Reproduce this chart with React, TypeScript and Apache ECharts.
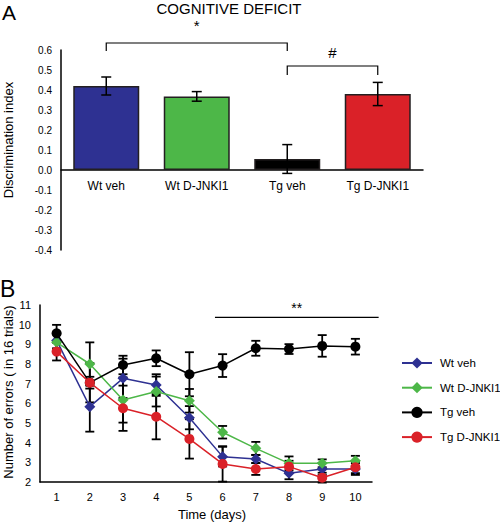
import React, { useEffect, useRef } from 'react';
import * as echarts from 'echarts';

// ---- Panel A data ----
const barCategories = ['Wt veh', 'Wt D-JNKI1', 'Tg veh', 'Tg D-JNKI1'];
const barValues = [0.42, 0.368, 0.055, 0.38];
const barErrors = [0.045, 0.024, 0.072, 0.058];
const barColors = ['#2e3192', '#4db748', '#000000', '#da2128'];

const bracketStart = [0, 2];
const bracketEnd = [2, 3];
const bracketTop = [0.635, 0.52];
const bracketLeg = [0.595, 0.475];
const bracketLabels = ['*', '#'];
const bracketLabelValue = [0.725, 0.59];

// ---- Panel B data ----
const days = ['1', '2', '3', '4', '5', '6', '7', '8', '9', '10'];
const wtVeh = [9.2, 5.83, 7.27, 6.93, 5.27, 3.29, 3.17, 2.44, 2.66, 2.66];
const wtVehErr = [0.4, 1.27, 1.0, 0.55, 0.59, 0.5, 0.2, 0.3, 0.3, 0.3];
const wtJnk = [9.1, 8.0, 6.17, 6.6, 6.13, 4.53, 3.71, 2.95, 2.95, 3.08];
const wtJnkErr = [0.4, 1.1, 1.15, 0.76, 0.6, 0.32, 0.33, 0.35, 0.2, 0.25];
const tgVeh = [9.56, 7.05, 7.95, 8.29, 7.48, 7.92, 8.8, 8.76, 8.92, 8.88];
const tgVehErr = [0.43, 0.3, 0.47, 0.4, 1.12, 0.58, 0.38, 0.25, 0.55, 0.4];
const tgJnk = [8.63, 7.05, 5.75, 5.32, 4.19, 2.92, 2.66, 2.78, 2.22, 2.75];
const tgJnkErr = [0.45, 1.0, 1.15, 1.15, 1.0, 0.9, 0.3, 0.3, 0.25, 0.3];

const lineNames = ['Wt veh', 'Wt D-JNKI1', 'Tg veh', 'Tg D-JNKI1'];
const lineColors = ['#2e3192', '#4db748', '#000000', '#da2128'];
const lineSymbols = ['diamond', 'diamond', 'circle', 'circle'];

const sigStartDay = 5.77;
const sigEndDay = 10.7;
const sigValue = 10.37;
const sigLabelValue = 10.85;
const sigLabel = '**';

const FONT = '"Liberation Sans", Arial, sans-serif';

export default function App() {
  const ref = useRef<HTMLDivElement>(null);

  useEffect(() => {
    if (!ref.current) return;
    const chart = echarts.init(ref.current, undefined, { renderer: 'svg' });

    const lineValues = [wtVeh, wtJnk, tgVeh, tgJnk];
    const lineErrs = [wtVehErr, wtJnkErr, tgVehErr, tgJnkErr];

    const errDataB: number[][] = [];
    lineValues.forEach((vals, s) => {
      vals.forEach((v, i) => {
        errDataB.push([i, v - lineErrs[s][i], v + lineErrs[s][i]]);
      });
    });

    const errRender = (w: number, lw: number) => (params: any, api: any) => {
      const x = api.value(0);
      const lo = api.coord([x, api.value(1)]);
      const hi = api.coord([x, api.value(2)]);
      const st = { stroke: '#000', lineWidth: lw };
      return {
        type: 'group',
        children: [
          { type: 'line', shape: { x1: lo[0], y1: lo[1], x2: hi[0], y2: hi[1] }, style: st },
          { type: 'line', shape: { x1: lo[0] - w, y1: lo[1], x2: lo[0] + w, y2: lo[1] }, style: st },
          { type: 'line', shape: { x1: hi[0] - w, y1: hi[1], x2: hi[0] + w, y2: hi[1] }, style: st },
        ],
      };
    };

    const option: any = {
      animation: false,
      textStyle: { fontFamily: FONT, color: '#000' },
      graphic: [
        { type: 'text', x: 2, y: 12, style: { text: 'A', font: `21px ${FONT}`, fill: '#000', textAlign: 'left', textVerticalAlign: 'middle' } },
        { type: 'text', x: 229, y: 8, style: { text: 'COGNITIVE DEFICIT', font: `15px ${FONT}`, fill: '#000', textAlign: 'center', textVerticalAlign: 'middle' } },
        { type: 'text', x: 8, y: 140, rotation: Math.PI / 2, style: { text: 'Discrimination index', font: `13px ${FONT}`, fill: '#000', textAlign: 'center', textVerticalAlign: 'middle' } },
        { type: 'text', x: 0, y: 289, style: { text: 'B', font: `23px ${FONT}`, fill: '#000', textAlign: 'left', textVerticalAlign: 'middle' } },
        { type: 'text', x: 8, y: 392, rotation: Math.PI / 2, style: { text: 'Number of errors ( in 16 trials)', font: `13px ${FONT}`, fill: '#000', textAlign: 'center', textVerticalAlign: 'middle' } },
        { type: 'text', x: 212, y: 514, style: { text: 'Time (days)', font: `13px ${FONT}`, fill: '#000', textAlign: 'center', textVerticalAlign: 'middle' } },
      ],
      legend: {
        orient: 'vertical',
        left: 396,
        top: 352,
        itemWidth: 30,
        itemHeight: 14,
        itemGap: 12.7,
        data: lineNames,
        textStyle: { fontSize: 11.5, fontFamily: FONT, color: '#000', padding: [0, 0, 0, 3] },
      },
      grid: [
        { left: 61, top: 50, width: 362, height: 200 },
        { left: 40, top: 305, width: 332, height: 177 },
      ],
      xAxis: [
        {
          type: 'category',
          gridIndex: 0,
          data: barCategories,
          offset: -80,
          axisLine: { onZero: false, lineStyle: { color: '#000', width: 1.5 } },
          axisTick: { show: false },
          axisLabel: { fontSize: 12, color: '#000', margin: 10, fontFamily: FONT },
        },
        {
          type: 'category',
          gridIndex: 1,
          data: days,
          boundaryGap: true,
          axisLine: { lineStyle: { color: '#000', width: 1.5 } },
          axisTick: { show: false },
          axisLabel: { fontSize: 11, color: '#000', margin: 9, fontFamily: FONT },
        },
      ],
      yAxis: [
        {
          type: 'value',
          gridIndex: 0,
          min: -0.4,
          max: 0.6,
          interval: 0.1,
          axisLine: { show: true, lineStyle: { color: '#000', width: 1.5 } },
          axisTick: { show: false },
          splitLine: { show: false },
          axisLabel: { fontSize: 10, color: '#000', margin: 9, fontFamily: FONT, formatter: (v: number) => v.toFixed(1) },
        },
        {
          type: 'value',
          gridIndex: 1,
          min: 2,
          max: 11,
          interval: 1,
          axisLine: { show: true, lineStyle: { color: '#000', width: 1.5 } },
          axisTick: { show: false },
          splitLine: { show: false },
          axisLabel: { fontSize: 11, color: '#000', margin: 9, fontFamily: FONT },
        },
      ],
      series: [
        {
          type: 'bar',
          xAxisIndex: 0,
          yAxisIndex: 0,
          barWidth: 66,
          data: barValues.map((v, i) => ({
            value: v,
            itemStyle: { color: barColors[i], borderColor: '#231f20', borderWidth: 1.5 },
          })),
          z: 2,
        },
        {
          type: 'custom',
          xAxisIndex: 0,
          yAxisIndex: 0,
          clip: false,
          z: 5,
          data: barValues.map((v, i) => [i, v - barErrors[i], v + barErrors[i]]),
          encode: { x: 0, y: [1, 2] },
          renderItem: errRender(5, 1.5),
        },
        {
          type: 'custom',
          xAxisIndex: 0,
          yAxisIndex: 0,
          clip: false,
          z: 5,
          data: bracketStart.map((s, i) => [s, bracketEnd[i], bracketTop[i], bracketLeg[i], bracketLabelValue[i]]),
          encode: { x: [0, 1], y: [2, 3, 4] },
          renderItem: (params: any, api: any) => {
            const s = api.value(0);
            const e = api.value(1);
            const a = api.coord([s, api.value(3)]);
            const b = api.coord([s, api.value(2)]);
            const c = api.coord([e, api.value(2)]);
            const d = api.coord([e, api.value(3)]);
            const lab = api.coord([s, api.value(4)]);
            return {
              type: 'group',
              children: [
                { type: 'polyline', shape: { points: [a, b, c, d] }, style: { stroke: '#000', lineWidth: 1.2, fill: null } },
                {
                  type: 'text',
                  x: (a[0] + d[0]) / 2,
                  y: lab[1],
                  style: { text: bracketLabels[params.dataIndex], font: `15px ${FONT}`, fill: '#000', textAlign: 'center', textVerticalAlign: 'middle' },
                },
              ],
            };
          },
        },
        {
          type: 'custom',
          xAxisIndex: 1,
          yAxisIndex: 1,
          clip: false,
          z: 1,
          data: errDataB,
          encode: { x: 0, y: [1, 2] },
          renderItem: errRender(4.5, 1.8),
        },
        ...lineNames.map((name, s) => ({
          type: 'line',
          name,
          xAxisIndex: 1,
          yAxisIndex: 1,
          data: lineValues[s],
          symbol: lineSymbols[s],
          symbolSize: lineSymbols[s] === 'diamond' ? 11 : 10,
          lineStyle: { color: lineColors[s], width: 1.5 },
          itemStyle: { color: lineColors[s], borderWidth: 0 },
          z: 3 + s,
        })),
        {
          type: 'custom',
          xAxisIndex: 1,
          yAxisIndex: 1,
          clip: false,
          z: 5,
          data: [[sigStartDay - 1, sigEndDay - 1, sigValue, sigLabelValue]],
          encode: { x: 0, y: [2, 3] },
          renderItem: (params: any, api: any) => {
            const base = api.coord([0, api.value(2)]);
            const labBase = api.coord([0, api.value(3)]);
            const band = api.size([1, 0])[0];
            const x1 = base[0] + api.value(0) * band;
            const x2 = base[0] + api.value(1) * band;
            return {
              type: 'group',
              children: [
                { type: 'line', shape: { x1, y1: base[1], x2, y2: base[1] }, style: { stroke: '#000', lineWidth: 1.2 } },
                {
                  type: 'text',
                  x: (x1 + x2) / 2,
                  y: labBase[1],
                  style: { text: sigLabel, font: `14px ${FONT}`, fill: '#000', textAlign: 'center', textVerticalAlign: 'middle' },
                },
              ],
            };
          },
        },
      ],
    };

    chart.setOption(option);
    return () => chart.dispose();
  }, []);

  return (
    <div
      ref={ref}
      style={{ position: 'fixed', left: 0, top: 0, width: 500, height: 522, background: '#fff' }}
    />
  );
}
